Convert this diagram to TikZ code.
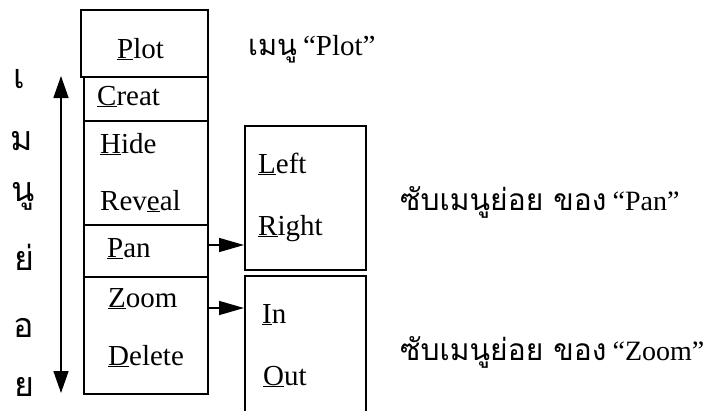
\documentclass[tikz,border=0pt]{standalone}
\usepackage{fontspec}
\setmainfont{Liberation Serif}
\newfontfamily\thai[Script=Thai]{Loma}
\usetikzlibrary{arrows.meta,calc}
\newcommand{\thaisz}[1]{\thai\fontsize{#1}{#1}\selectfont}
\newcommand{\latsz}[1]{\fontsize{#1}{#1}\selectfont}
\begin{document}
\begin{tikzpicture}[x=1pt,y=-1pt,
  box/.style={draw,line width=1.5pt,rectangle,inner sep=0,anchor=north west},
  item/.style={anchor=base west,inner sep=0,font=\fontsize{29}{30}\selectfont},
  lab/.style={anchor=base west,inner sep=0},
  vl/.style={anchor=base,inner sep=0,font=\thai\fontsize{34}{36}\selectfont},
  arr/.style={line width=1.5pt,-{Triangle[length=25pt,width=14pt]}},
  darr/.style={line width=1.5pt,{Triangle[length=22pt,width=15pt]}-{Triangle[length=22pt,width=15pt]}}]
\useasboundingbox[fill=white] (0,0) rectangle (706,410);

% boxes
\node[box,minimum width=127pt,minimum height=67pt] (plot) at (80,9) {};
\node[box,minimum width=124pt,minimum height=44pt] (creat) at (83,76) {};
\node[box,minimum width=124pt,minimum height=104pt] (hidegrp) at (83,120) {};
\node[box,minimum width=124pt,minimum height=52pt] (pan) at (83,224) {};
\node[box,minimum width=124pt,minimum height=117pt] (zoomgrp) at (83,276) {};
\node[box,minimum width=121pt,minimum height=144pt] (sub1) at (244,125) {};
\node[box,minimum width=121pt,minimum height=150pt] (sub2) at (244,275) {};

% menu texts
\node[item] (plott) at (117,58) {\underline{P}lot};
\node[item] (creatt) at (97,105) {\underline{C}reat};
\node[item] (hidet) at (100,153) {\underline{H}ide};
\node[item] (revealt) at (100,210) {Rev\underline{e}al};
\node[item] (pant) at (107,257) {\underline{P}an};
\node[item] (zoomt) at (108,307) {\underline{Z}oom};
\node[item] (deletet) at (108,365) {\underline{D}elete};
\node[item] (leftt) at (258,173) {\underline{L}eft};
\node[item] (rightt) at (258,235) {\underline{R}ight};
\node[item] (int) at (262,323) {\underline{I}n};
\node[item] (outt) at (263,385) {\underline{O}ut};

% labels
\node[lab] (l1) at (248,55) {{\thaisz{29}เมนู}\hspace{6pt}{\latsz{29}“Plot”}};
\node[lab] (l2) at (400,210) {{\thaisz{30}ซับเมนูย่อย ของ}\hspace{6pt}{\latsz{28}“Pan”}};
\node[lab] (l3) at (400,360) {{\thaisz{30}ซับเมนูย่อย ของ}\hspace{6pt}{\latsz{28}“Zoom”}};

% vertical thai letters
\node[vl] (v1) at (19,88) {เ};
\node[vl] (v2) at (22,150) {ม};
\node[vl] (v3) at (23,201) {นู};
\node[vl] (v4) at (24,270) {ย่};
\node[vl] (v5) at (24,337) {อ};
\node[vl] (v6) at (24,396) {ย};

% arrows
\coordinate (atop) at (61,76);
\coordinate (abot) at (61,393);
\draw[darr] (abot) -- (atop);
\coordinate (pa) at (0,245);
\coordinate (za) at (0,308);
\draw[arr] (pan.east |- pa) -- (sub1.west |- pa);
\draw[arr] (zoomgrp.east |- za) -- (sub2.west |- za);
\end{tikzpicture}
\end{document}
